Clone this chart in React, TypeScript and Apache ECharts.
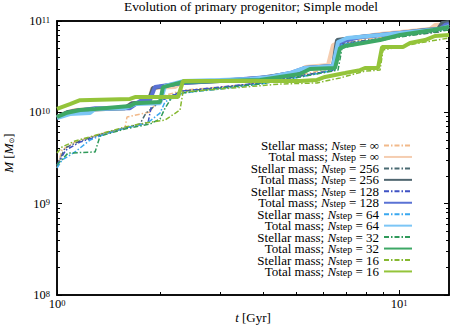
import React, { useEffect, useRef } from 'react';
import * as echarts from 'echarts';

const FONT = 'Liberation Serif, Times New Roman, serif';
const TITLE = 'Evolution of primary progenitor; Simple model';

const X_MIN = 1;
const X_MAX = 14;
const Y_MIN = 1e8;
const Y_MAX = 1e11;
const X_MAJOR = [1, 10];
const X_MINOR = [2, 3, 4, 5, 6, 7, 8, 9];
const Y_MAJOR = [1e8, 1e9, 1e10, 1e11];
const Y_MINOR = [
  2e8, 3e8, 4e8, 5e8, 6e8, 7e8, 8e8, 9e8,
  2e9, 3e9, 4e9, 5e9, 6e9, 7e9, 8e9, 9e9,
  2e10, 3e10, 4e10, 5e10, 6e10, 7e10, 8e10, 9e10,
];

const SERIES_NAMES = [
  'Stellar mass; N_step = ∞',
  'Total mass; N_step = ∞',
  'Stellar mass; N_step = 256',
  'Total mass; N_step = 256',
  'Stellar mass; N_step = 128',
  'Total mass; N_step = 128',
  'Stellar mass; N_step = 64',
  'Total mass; N_step = 64',
  'Stellar mass; N_step = 32',
  'Total mass; N_step = 32',
  'Stellar mass; N_step = 16',
  'Total mass; N_step = 16',
];

// [t (Gyr), M (Msun)]
const STELLAR_INF = [
  [1.0, 2.46e9], [1.034, 3.87e9], [1.129, 4.73e9], [1.336, 5.79e9], [1.58, 6.74e9],
  [1.602, 8.88e9], [1.87, 1.01e10], [2.001, 1.47e10], [2.336, 1.75e10], [3.0, 1.89e10],
  [3.667, 2.04e10], [4.196, 2.26e10], [5.134, 2.56e10], [6.2, 2.98e10], [6.412, 5.19e10],
  [7.691, 6.19e10], [10.07, 7.03e10], [12.32, 7.58e10], [12.74, 8.38e10], [14.0, 8.59e10],
];
const TOTAL_INF = [
  [1.0, 8.88e9], [1.062, 9.82e9], [1.129, 1.06e10], [1.336, 1.09e10], [1.58, 1.11e10],
  [1.635, 1.23e10], [1.87, 1.3e10], [1.896, 1.85e10], [2.213, 1.89e10], [2.32, 2.15e10],
  [3.0, 2.2e10], [3.667, 2.26e10], [4.057, 2.38e10], [4.487, 2.56e10], [5.134, 2.76e10],
  [5.31, 3.13e10], [6.2, 3.3e10], [6.412, 5.46e10], [6.952, 6.19e10], [7.691, 6.68e10],
  [8.8, 7.2e10], [10.07, 7.58e10], [11.52, 7.97e10], [12.32, 8.17e10], [12.74, 9.04e10],
  [14.0, 9.27e10],
];
const STELLAR_256 = [
  [1.0, 2.58e9], [1.055, 4.07e9], [1.168, 4.85e9], [1.382, 5.94e9], [1.58, 6.74e9],
  [1.748, 7.45e9], [1.82, 9.82e9], [2.069, 1.44e10], [2.336, 1.71e10], [3.0, 1.85e10],
  [3.923, 2.1e10], [5.134, 2.5e10], [6.412, 2.9e10], [6.588, 5.6e10], [10.07, 6.85e10],
  [13.18, 7.58e10], [13.45, 8.81e10], [14.0, 9.04e10],
];
const TOTAL_256 = [
  [1.0, 8.88e9], [1.077, 1.01e10], [1.168, 1.06e10], [1.58, 1.11e10], [1.657, 1.26e10],
  [1.845, 1.3e10], [1.909, 1.85e10], [2.32, 2.1e10], [3.0, 2.2e10], [3.923, 2.38e10],
  [4.487, 2.56e10], [5.134, 2.76e10], [5.31, 3.06e10], [6.412, 3.21e10], [6.588, 6.19e10],
  [7.691, 6.68e10], [10.07, 7.39e10], [11.91, 7.97e10], [13.0, 8.17e10], [13.36, 9.51e10],
  [14.0, 9.75e10],
];
const STELLAR_128 = [
  [1.0, 2.65e9], [1.062, 3.87e9], [1.168, 4.73e9], [1.382, 5.79e9], [1.58, 6.74e9],
  [1.845, 7.64e9], [1.896, 1.26e10], [2.069, 1.4e10], [2.336, 1.71e10], [3.0, 1.89e10],
  [3.923, 2.1e10], [5.134, 2.5e10], [6.5, 2.9e10], [6.723, 5.46e10], [10.07, 6.85e10],
  [13.63, 7.97e10], [14.0, 8.59e10],
];
const TOTAL_128 = [
  [1.0, 8.88e9], [1.129, 1.03e10], [1.292, 1.11e10], [1.635, 1.11e10], [1.748, 1.33e10],
  [1.87, 1.36e10], [1.934, 1.89e10], [2.336, 2.1e10], [3.205, 2.26e10], [4.196, 2.44e10],
  [4.8, 2.69e10], [5.31, 3.06e10], [6.5, 3.21e10], [6.723, 5.89e10], [7.691, 6.68e10],
  [8.8, 7.03e10], [10.07, 7.39e10], [11.52, 7.77e10], [13.18, 8.17e10], [13.63, 9.04e10],
  [14.0, 9.27e10],
];
const STELLAR_64 = [
  [1.0, 2.46e9], [1.034, 3.0e9], [1.129, 3.68e9], [1.249, 4.97e9], [1.382, 5.79e9],
  [1.58, 6.74e9], [1.748, 7.27e9], [1.87, 8.04e9], [2.001, 9.82e9], [2.069, 1.3e10],
  [2.336, 1.63e10], [3.0, 1.8e10], [3.923, 2.04e10], [5.134, 2.44e10], [6.5, 2.9e10],
  [6.723, 5.46e10], [10.07, 6.85e10], [14.0, 8.38e10],
];
const TOTAL_64 = [
  [1.0, 8.66e9], [1.091, 9.58e9], [1.249, 9.82e9], [1.292, 1.09e10], [1.58, 1.11e10],
  [1.691, 1.23e10], [2.001, 1.26e10], [2.069, 1.94e10], [2.336, 2.2e10], [3.0, 2.26e10],
  [3.667, 2.32e10], [4.196, 2.44e10], [4.8, 2.69e10], [5.31, 3.06e10], [6.412, 3.21e10],
  [6.632, 5.89e10], [7.047, 6.51e10], [8.8, 7.03e10], [10.77, 7.58e10], [13.18, 8.17e10],
  [14.0, 8.81e10],
];
const STELLAR_32 = [
  [1.0, 2.65e9], [1.077, 3.58e9], [1.292, 3.68e9], [1.336, 5.5e9], [1.58, 6.57e9],
  [1.87, 7.45e9], [2.001, 8.45e9], [2.069, 1.11e10], [2.14, 1.36e10], [2.336, 1.63e10],
  [3.0, 1.85e10], [3.923, 2.04e10], [5.134, 2.44e10], [6.632, 2.9e10], [6.814, 5.06e10],
  [7.691, 5.6e10], [10.07, 6.68e10], [14.0, 7.97e10],
];
const TOTAL_32 = [
  [1.0, 8.88e9], [1.062, 9.82e9], [1.168, 1.06e10], [1.292, 1.09e10], [1.635, 1.17e10],
  [1.691, 1.26e10], [2.001, 1.3e10], [2.041, 1.89e10], [2.336, 2.15e10], [3.0, 2.2e10],
  [3.923, 2.26e10], [4.487, 2.44e10], [5.134, 2.63e10], [5.492, 2.98e10], [6.5, 3.06e10],
  [6.723, 5.06e10], [6.952, 5.32e10], [7.847, 5.74e10], [8.8, 6.19e10], [10.07, 7.03e10],
  [12.57, 7.97e10], [14.0, 8.59e10],
];
const STELLAR_16 = [
  [1.0, 3.58e9], [1.034, 4.17e9], [1.129, 4.85e9], [1.336, 5.79e9], [1.58, 6.91e9],
  [1.808, 7.64e9], [2.069, 8.24e9], [2.289, 1.06e10], [2.336, 1.67e10], [3.0, 1.8e10],
  [4.487, 2.04e10], [5.757, 2.1e10], [6.723, 2.38e10], [7.953, 2.83e10], [8.8, 2.9e10],
  [8.979, 4.81e10], [10.27, 5.32e10], [11.91, 5.89e10], [14.0, 6.51e10],
];
const TOTAL_16 = [
  [1.0, 1.09e10], [1.091, 1.23e10], [1.168, 1.36e10], [1.635, 1.4e10], [1.691, 1.47e10],
  [2.258, 1.47e10], [2.336, 2.2e10], [5.134, 2.2e10], [5.757, 2.26e10], [6.076, 2.44e10],
  [6.952, 2.69e10], [7.691, 2.9e10], [7.953, 3.06e10], [8.683, 3.06e10], [8.919, 5.19e10],
  [10.27, 5.19e10], [10.77, 5.74e10], [11.91, 6.19e10], [12.74, 6.85e10], [14.0, 7.03e10],
];

const SERIES_DATA = [
  STELLAR_INF, TOTAL_INF, STELLAR_256, TOTAL_256, STELLAR_128, TOTAL_128,
  STELLAR_64, TOTAL_64, STELLAR_32, TOTAL_32, STELLAR_16, TOTAL_16,
];
const COLORS = [
  '#f2b98a', '#f5cdb0', '#4a6a72', '#506670', '#3f52c4', '#5a72d4',
  '#3aa8f0', '#7cc6f6', '#2f9a5a', '#3ea866', '#86b830', '#94c43a',
];

const powRich = {
  b: { fontFamily: FONT, fontSize: 12.5, lineHeight: 12, color: '#000' },
  e: { fontFamily: FONT, fontSize: 8.5, lineHeight: 8, verticalAlign: 'top', padding: [0, 0, 8, 0], color: '#000' },
};
const powLabel = (v: number) => `{b|10}{e|${Math.round(Math.log10(v))}}`;

function makeAxis(kind: 'x' | 'y', position: string, ticks: number[], len: number, labels: boolean, extra: any = {}) {
  const isX = kind === 'x';
  return {
    type: 'log',
    logBase: 10,
    min: isX ? X_MIN : Y_MIN,
    max: isX ? X_MAX : Y_MAX,
    position,
    axisLine: { show: true, onZero: false, lineStyle: { color: '#000', width: 1.5 } },
    axisTick: { show: true, inside: true, length: len, customValues: ticks, lineStyle: { color: '#000', width: 1 } },
    axisLabel: labels
      ? { show: true, customValues: isX ? X_MAJOR : Y_MAJOR, formatter: powLabel, rich: powRich, margin: isX ? 3 : 7 }
      : { show: false },
    splitLine: { show: false },
    minorTick: { show: false },
    nameMoveOverlap: false,
    ...extra,
  };
}

export default function App() {
  const ref = useRef<HTMLDivElement>(null);
  useEffect(() => {
    if (!ref.current) return;
    const chart = echarts.init(ref.current, undefined, { renderer: 'svg' });
    const series = SERIES_NAMES.map((name, i) => {
      const stellar = i % 2 === 0;
      return {
        name,
        type: 'line',
        data: SERIES_DATA[i],
        xAxisIndex: 0,
        yAxisIndex: 0,
        symbol: 'none',
        showSymbol: false,
        silent: true,
        color: COLORS[i],
        lineStyle: stellar
          ? { color: COLORS[i], width: 1.5, type: [5, 2, 1.5, 2] }
          : { color: COLORS[i], width: 4, type: 'solid' },
      };
    });
    const option: any = {
      animation: false,
      backgroundColor: '#fff',
      title: {
        text: TITLE,
        left: 124,
        top: 0,
        padding: 0,
        textStyle: { fontFamily: FONT, fontSize: 13.4, fontWeight: 'normal', color: '#000' },
      },
      grid: { left: 57, right: 2, top: 21, bottom: 32, containLabel: false, outerBoundsMode: 'none' },
      xAxis: [
        makeAxis('x', 'bottom', X_MAJOR, 5, true, {
          name: '{i|t} [Gyr]',
          nameLocation: 'middle',
          nameGap: 16,
          nameTextStyle: {
            fontFamily: FONT, fontSize: 13, color: '#000',
            rich: { i: { fontFamily: FONT, fontSize: 13, fontStyle: 'italic', color: '#000' } },
          },
        }),
        makeAxis('x', 'top', X_MAJOR, 5, false),
        makeAxis('x', 'bottom', X_MINOR, 3, false),
        makeAxis('x', 'top', X_MINOR, 3, false),
      ],
      yAxis: [
        makeAxis('y', 'left', Y_MAJOR, 5, true, {
          name: '{i|M} [{i|M}{s|⊙}]',
          nameLocation: 'middle',
          nameGap: 42,
          nameRotate: 90,
          nameTextStyle: {
            fontFamily: FONT, fontSize: 13, color: '#000',
            padding: [0, 0, 0, 10],
            rich: {
              i: { fontFamily: FONT, fontSize: 13, lineHeight: 12, fontStyle: 'italic', color: '#000' },
              s: { fontFamily: 'DejaVu Sans', fontSize: 7, lineHeight: 7, verticalAlign: 'bottom', padding: [7, 0, 0, 0], color: '#000' },
            },
          },
        }),
        makeAxis('y', 'right', Y_MAJOR, 5, false),
        makeAxis('y', 'left', Y_MINOR, 3, false),
        makeAxis('y', 'right', Y_MINOR, 3, false),
      ],
      legend: {
        orient: 'vertical',
        right: 38,
        top: 133.5,
        align: 'right',
        itemWidth: 28,
        itemHeight: 10,
        itemGap: -7.05,
        padding: 0,
        itemStyle: { opacity: 0 },
        data: SERIES_NAMES,
        formatter: (name: string) => {
          const [lbl, rest] = name.split('; N_step = ');
          return `{a|${lbl}; }{n|N}{s|step}{a| = ${rest}}`;
        },
        textStyle: {
          fontFamily: FONT,
          fontSize: 13,
          color: '#000',
          rich: {
            a: { fontFamily: FONT, fontSize: 13, lineHeight: 12, color: '#000' },
            n: { fontFamily: FONT, fontSize: 13, lineHeight: 12, fontStyle: 'italic', color: '#000' },
            s: { fontFamily: FONT, fontSize: 10, lineHeight: 8, verticalAlign: 'bottom', padding: [8, 0, 0, 0], color: '#000' },
          },
        },
      },
      series,
    };
    chart.setOption(option);
    return () => chart.dispose();
  }, []);
  return (
    <div
      ref={ref}
      style={{ position: 'fixed', left: 0, top: 0, width: 451, height: 327, background: '#fff' }}
    />
  );
}
